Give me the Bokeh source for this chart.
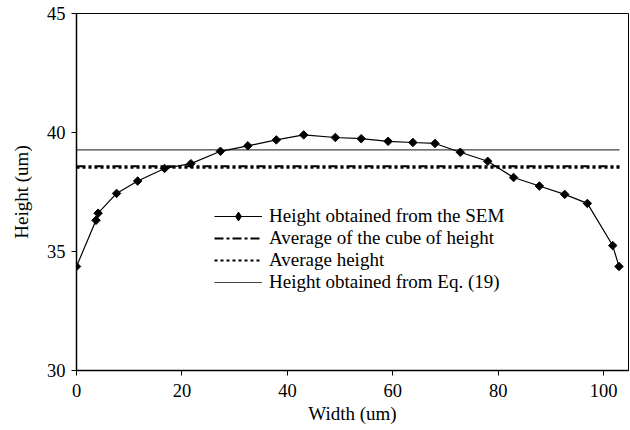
import numpy as np
from bokeh.plotting import figure
from bokeh.models import Range1d, FixedTicker, Legend, LegendItem
from bokeh.embed import file_html
from bokeh.resources import INLINE

width_um = [0.0, 3.7, 4.1, 7.6, 11.6, 16.7, 21.7, 27.3, 32.5, 37.9, 43.1,
            49.1, 54.0, 59.1, 63.8, 68.0, 72.8, 78.0, 82.9, 87.8, 92.6,
            96.9, 101.7, 102.9]
height_sem = [34.37, 36.31, 36.61, 37.44, 37.96, 38.49, 38.69, 39.21, 39.44,
              39.69, 39.90, 39.79, 39.74, 39.63, 39.58, 39.54, 39.17, 38.79,
              38.11, 37.75, 37.40, 37.02, 35.25, 34.37]
hline_x = [0.0, 103.0]
avg_cube = 38.58
avg_height = 38.52
eq19_height = 39.27
x_ticks = [0, 20, 40, 60, 80, 100]
y_ticks = [30, 35, 40, 45]
labels = ["Height obtained from the SEM", "Average of the cube of height",
          "Average height", "Height obtained from Eq. (19)"]

FONT = "Liberation Serif"

p = figure(width=630, height=430, output_backend="svg", toolbar_location=None,
           x_range=Range1d(0, 104.7), y_range=Range1d(30, 45))
p.min_border_left = 76
p.min_border_right = 2
p.min_border_top = 13
p.min_border_bottom = 60
p.background_fill_color = "white"
p.border_fill_color = "white"
p.outline_line_color = "black"
p.outline_line_width = 1
p.grid.visible = False

for ax in (p.xaxis[0], p.yaxis[0]):
    ax.axis_line_color = "black"
    ax.axis_line_width = 1.5
    ax.major_tick_line_color = "black"
    ax.major_tick_out = 5
    ax.major_tick_in = 0
    ax.minor_tick_line_color = None
    ax.major_label_text_font = FONT
    ax.major_label_text_font_size = "18.5px"
    ax.major_label_text_color = "black"
    ax.axis_label_text_font = FONT
    ax.axis_label_text_font_size = "19px"
    ax.axis_label_text_font_style = "normal"
    ax.axis_label_text_color = "black"

p.xaxis.ticker = FixedTicker(ticks=x_ticks)
p.yaxis.ticker = FixedTicker(ticks=y_ticks)
p.xaxis.axis_label = "Width (um)"
p.yaxis.axis_label = "Height (um)"
p.xaxis.major_label_standoff = 8
p.xaxis.axis_label_standoff = 3
p.yaxis.major_label_standoff = 6
p.yaxis.axis_label_standoff = 12

r_eq = p.line([hline_x[0], hline_x[1]], [eq19_height, eq19_height],
              line_color="#444444", line_width=1.2)
r_cube = p.line([hline_x[0], hline_x[1]], [avg_cube, avg_cube],
                line_color="black", line_width=2, line_dash="9 3 3 3")
r_avg = p.line([hline_x[0], hline_x[1]], [avg_height, avg_height],
               line_color="black", line_width=2, line_dash="3 3")
r_sem_line = p.line(width_um, height_sem, line_color="black", line_width=1.2)
r_sem_pts = p.scatter(width_um, height_sem, marker="square", angle=np.pi / 4,
                      size=6, fill_color="black", line_color="black")
# legend-only proxy for the diamond symbol (no data drawn)
r_legend_diamond = p.scatter([np.nan], [np.nan], marker="diamond", size=10,
                             fill_color="black", line_color="black")

legend = Legend(items=[
    LegendItem(label=labels[0], renderers=[r_sem_line, r_legend_diamond]),
    LegendItem(label=labels[1], renderers=[r_cube]),
    LegendItem(label=labels[2], renderers=[r_avg]),
    LegendItem(label=labels[3], renderers=[r_eq]),
], location=(138, 77))
legend.border_line_color = None
legend.background_fill_alpha = 0
legend.padding = 0
legend.margin = 0
legend.spacing = 0
legend.glyph_width = 48
legend.glyph_height = 22
legend.label_height = 22
legend.label_standoff = 7
legend.label_text_font = FONT
legend.label_text_font_size = "19px"
legend.label_text_color = "black"
p.add_layout(legend, "center")

open("out.html", "w").write(file_html(p, INLINE))
